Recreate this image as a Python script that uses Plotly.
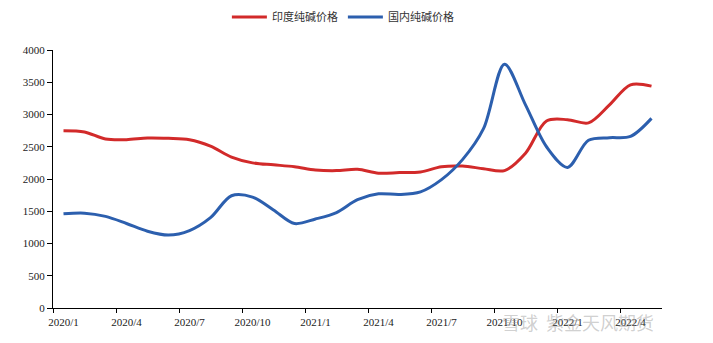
import plotly.graph_objects as go

months = ["2020/1","2020/2","2020/3","2020/4","2020/5","2020/6","2020/7","2020/8","2020/9",
          "2020/10","2020/11","2020/12","2021/1","2021/2","2021/3","2021/4","2021/5","2021/6",
          "2021/7","2021/8","2021/9","2021/10","2021/11","2021/12","2022/1","2022/2","2022/3",
          "2022/4","2022/5"]
india_price = [2750, 2730, 2620, 2610, 2635, 2630, 2610, 2510, 2340, 2250, 2220, 2190, 2140,
               2130, 2150, 2090, 2100, 2110, 2190, 2200, 2160, 2130, 2400, 2900, 2920, 2870,
               3150, 3460, 3440]
china_price = [1460, 1470, 1420, 1310, 1190, 1130, 1200, 1400, 1740, 1720, 1520, 1310, 1380,
               1480, 1680, 1770, 1760, 1800, 1990, 2300, 2780, 3780, 3150, 2500, 2180, 2600,
               2640, 2660, 2940]
series_names = ["印度纯碱价格", "国内纯碱价格"]
tick_labels = ["2020/1","2020/4","2020/7","2020/10","2021/1","2021/4","2021/7","2021/10","2022/1","2022/4"]
y_ticks = [0, 500, 1000, 1500, 2000, 2500, 3000, 3500, 4000]
watermark = "雪球  紫金天风期货"

x = list(range(len(months)))
tick_pos = [months.index(t) for t in tick_labels]

fig = go.Figure()
fig.add_trace(go.Scatter(x=x, y=india_price, name=series_names[0], mode="lines",
                         line=dict(color="#d22a2a", width=3, shape="spline", smoothing=0.9)))
fig.add_trace(go.Scatter(x=x, y=china_price, name=series_names[1], mode="lines",
                         line=dict(color="#2c5fae", width=3, shape="spline", smoothing=0.9)))

tick_font = dict(family="Liberation Serif, Times New Roman, serif", size=11, color="#222")
fig.update_layout(
    width=713, height=343,
    margin=dict(l=53, r=51, t=50, b=35, autoexpand=False),
    paper_bgcolor="white", plot_bgcolor="white",
    showlegend=True,
    legend=dict(orientation="h", x=0.476, xanchor="center",
                yref="container", y=1 - 17 / 343, yanchor="middle",
                font=dict(family="Noto Sans CJK SC", size=11, color="#333"),
                itemwidth=35, tracegroupgap=0),
    xaxis=dict(range=[-0.5, len(months) - 0.5], tickmode="array", tickvals=tick_pos,
               ticktext=tick_labels, ticks="", showgrid=False, zeroline=False,
               showline=True, linecolor="#000", linewidth=1, tickfont=tick_font,
               ticklabelstandoff=4,
               minor=dict(tickmode="linear", tick0=-0.5, dtick=3, ticks="outside",
                          ticklen=4, tickcolor="#000", showgrid=False)),
    yaxis=dict(range=[0, 4000], tickvals=y_ticks, ticks="outside", ticklen=5,
               tickcolor="#000", showgrid=False, zeroline=False, showline=True,
               linecolor="#000", linewidth=1, tickfont=tick_font),
)
fig.add_annotation(text=watermark, xref="paper", yref="paper", x=0.99, y=-14 / 258,
                   xanchor="right", yanchor="middle", showarrow=False,
                   font=dict(family="Noto Sans CJK SC", size=18, color="rgba(150,150,150,0.45)"))
fig.write_html("out.html")
